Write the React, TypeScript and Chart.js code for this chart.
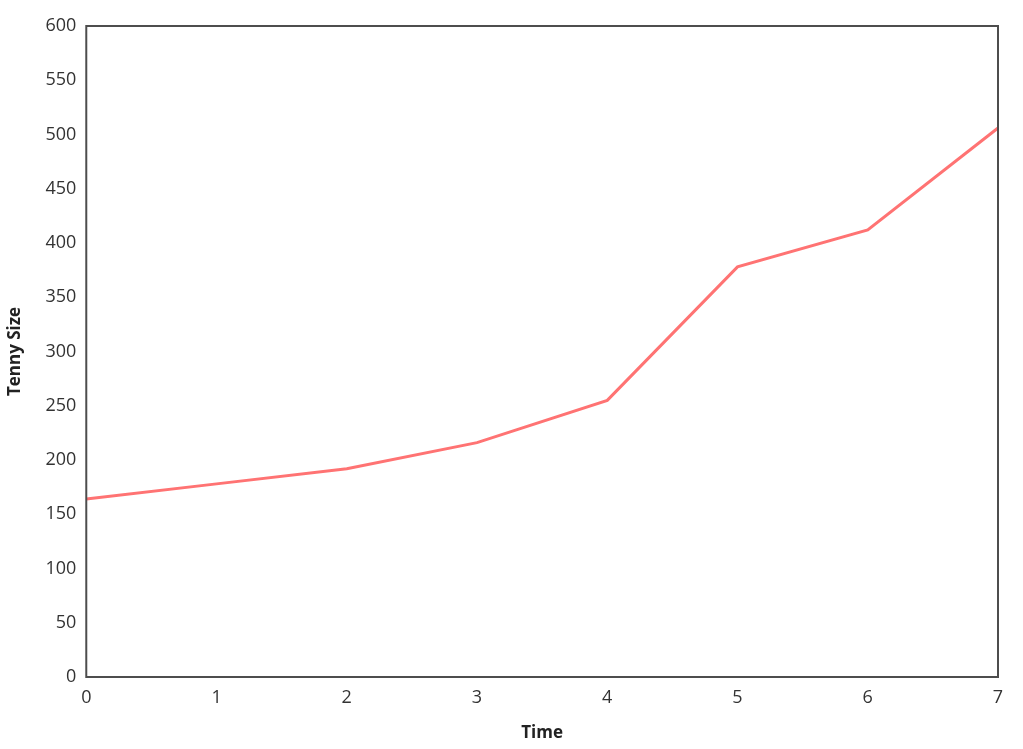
import React, { useEffect, useRef } from "react";
import { Chart, registerables } from "chart.js";

Chart.register(...registerables);

const timeLabels = ["0", "1", "2", "3", "4", "5", "6", "7"];
const tennySize = [164, 178, 192, 216, 255, 378, 412, 506];

const frameBox = {
  id: "frameBox",
  afterDatasetsDraw(chart: any) {
    const { ctx, chartArea } = chart;
    ctx.save();
    ctx.strokeStyle = "#4d4d4d";
    ctx.lineWidth = 2;
    ctx.strokeRect(chartArea.left, chartArea.top, chartArea.right - chartArea.left, chartArea.bottom - chartArea.top);
    ctx.restore();
  },
};

export default function App() {
  const ref = useRef<HTMLCanvasElement>(null);
  useEffect(() => {
    document.body.style.margin = "0";
    const chart = new Chart(ref.current!, {
      type: "line",
      data: {
        labels: timeLabels,
        datasets: [
          {
            label: "Tenny Size",
            data: tennySize,
            borderColor: "#ff7373",
            borderWidth: 3,
            pointRadius: 0,
            tension: 0,
            fill: false,
          },
        ],
      },
      options: {
        animation: false,
        responsive: false,
        maintainAspectRatio: false,
        layout: { padding: { top: 26, right: 25, bottom: 6, left: 5 } },
        plugins: { legend: { display: false }, tooltip: { enabled: false } },
        scales: {
          x: {
            offset: false,
            grid: { display: false, drawTicks: false },
            border: { display: false },
            ticks: { color: "#333", font: { family: "Open Sans", size: 18 }, padding: 10, maxRotation: 0 },
            title: { display: true, text: "Time", color: "#222", font: { family: "Open Sans", size: 17, weight: "bold" }, padding: { top: 4, bottom: 0 } },
          },
          y: {
            min: 0,
            max: 600,
            grid: { display: false, drawTicks: false },
            border: { display: false },
            ticks: { stepSize: 50, color: "#333", font: { family: "Open Sans", size: 18 }, padding: 10 },
            title: { display: true, text: "Tenny Size", color: "#222", font: { family: "Open Sans", size: 17, weight: "bold" }, padding: { top: 0, bottom: 10 } },
          },
        },
      },
      plugins: [frameBox],
    });
    return () => chart.destroy();
  }, []);
  return (
    <div style={{ width: 1023, height: 749 }}>
      <canvas ref={ref} width={1023} height={749} style={{ display: "block" }} />
    </div>
  );
}
